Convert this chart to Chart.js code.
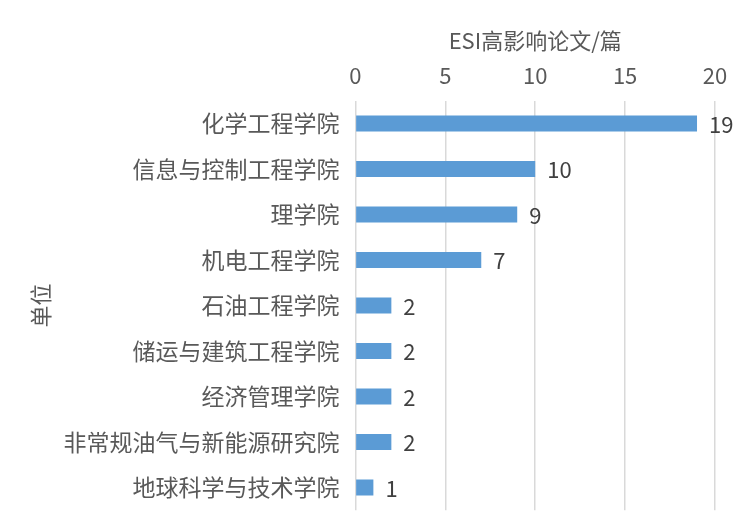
<!DOCTYPE html>
<html><head><meta charset="utf-8">
<script src="https://cdn.jsdelivr.net/npm/chart.js@4.4.1/dist/chart.umd.min.js"></script>
<style>html,body{margin:0;padding:0;background:#fff}#wrap{width:750px;height:532px}</style>
</head><body><div id="wrap"><canvas id="c" width="750" height="532"></canvas></div>
<script>
const categories = ["化学工程学院","信息与控制工程学院","理学院","机电工程学院","石油工程学院","储运与建筑工程学院","经济管理学院","非常规油气与新能源研究院","地球科学与技术学院"];
const values = [19,10,9,7,2,2,2,2,1];
const xTitle = "ESI高影响论文/篇";
const yTitle = "单位";
const FONT = "'Noto Sans CJK SC', 'Noto Sans', sans-serif";

const labelPlugin = {
  id: 'barLabels',
  afterDatasetsDraw(chart) {
    const ctx = chart.ctx;
    const meta = chart.getDatasetMeta(0);
    ctx.save();
    ctx.font = "22px " + FONT;
    ctx.fillStyle = "#404040";
    ctx.textAlign = "left";
    ctx.textBaseline = "middle";
    meta.data.forEach((bar, i) => {
      ctx.fillText(String(values[i]), bar.x + 12, bar.y + 1);
    });
    ctx.restore();
  }
};

new Chart(document.getElementById('c'), {
  type: 'bar',
  data: {
    labels: categories,
    datasets: [{ data: values, backgroundColor: '#5B9BD5', borderWidth: 0, categoryPercentage: 1, barPercentage: 0.35 }]
  },
  options: {
    indexAxis: 'y',
    responsive: false,
    animation: false,
    layout: { padding: { top: 27, right: 35, bottom: 5, left: 27 } },
    plugins: { legend: { display: false }, tooltip: { enabled: false } },
    scales: {
      x: {
        position: 'top',
        min: 0, max: 20,
        ticks: { stepSize: 5, color: '#595959', font: { family: FONT, size: 22 }, padding: 12 },
        grid: { color: '#d9d9d9', lineWidth: 1.5, drawTicks: false },
        border: { display: false },
        title: { display: true, text: xTitle, color: '#595959', font: { family: FONT, size: 22 }, padding: { top: 0, bottom: -3 } }
      },
      y: {
        ticks: { color: '#595959', font: { family: FONT, size: 23 }, padding: 8 },
        grid: { display: false },
        border: { display: false },
        title: { display: true, text: yTitle, color: '#595959', font: { family: FONT, size: 22 }, padding: { top: 0, bottom: 2 } }
      }
    }
  },
  plugins: [labelPlugin]
});
</script></body></html>
